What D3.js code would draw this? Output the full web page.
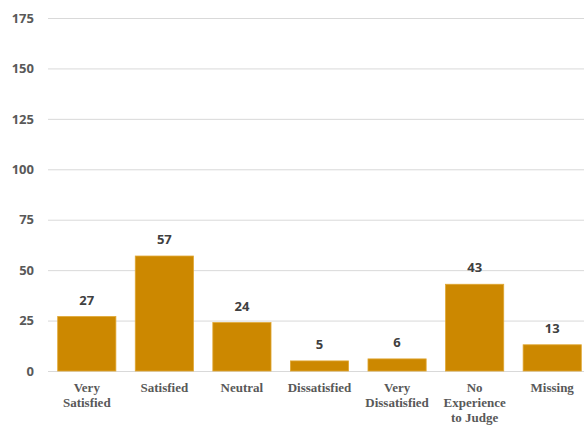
<!DOCTYPE html>
<html><head><meta charset="utf-8">
<script src="https://cdn.jsdelivr.net/npm/d3@7"></script>
<style>body{margin:0;background:#fff}svg{display:block}</style>
</head><body>
<script>
const categories = [["Very","Satisfied"],["Satisfied"],["Neutral"],["Dissatisfied"],["Very","Dissatisfied"],["No","Experience","to Judge"],["Missing"]];
const values = [27, 57, 24, 5, 6, 43, 13];
const yTicks = [0, 25, 50, 75, 100, 125, 150, 175];

const W = 584, H = 425;
const svg = d3.select("body").append("svg").attr("width", W).attr("height", H);
const x = d3.scaleBand().domain(d3.range(values.length)).range([48, 591]).paddingInner(0.25).paddingOuter(0.125);
const y = d3.scaleLinear().domain([0, 175]).range([371, 18]);

const gy = svg.append("g").attr("transform", "translate(48,0)")
  .call(d3.axisLeft(y).tickValues(yTicks).tickSize(-560).tickPadding(14));
gy.select(".domain").remove();
gy.selectAll(".tick line").attr("stroke", "#d9d9d9").attr("stroke-width", 1);
gy.selectAll(".tick text").attr("fill", "#595959").attr("font-family", "'Open Sans', 'Liberation Sans', sans-serif")
  .attr("font-weight", "bold").attr("font-size", 13);

svg.selectAll("rect.bar").data(values).join("rect").attr("class", "bar")
  .attr("x", (d, i) => x(i)).attr("width", x.bandwidth())
  .attr("y", d => y(d)).attr("height", d => y(0) - y(d))
  .attr("fill", "#cc8800").attr("stroke", "#e0a733").attr("stroke-width", 0.8);

svg.selectAll("text.val").data(values).join("text").attr("class", "val")
  .attr("x", (d, i) => x(i) + x.bandwidth() / 2).attr("y", d => y(d) - 12)
  .attr("text-anchor", "middle").attr("fill", "#404040")
  .attr("font-family", "'Open Sans', 'Liberation Sans', sans-serif").attr("font-weight", "bold").attr("font-size", 13)
  .text(d => d);

const cat = svg.selectAll("text.cat").data(categories).join("text").attr("class", "cat")
  .attr("x", (d, i) => x(i) + x.bandwidth() / 2).attr("y", 392)
  .attr("text-anchor", "middle").attr("fill", "#595959")
  .attr("font-family", "'Liberation Serif', 'Times New Roman', serif").attr("font-weight", "bold").attr("font-size", 13);
cat.selectAll("tspan").data(d => d).join("tspan")
  .attr("x", function() { return d3.select(this.parentNode).attr("x"); })
  .attr("dy", (d, i) => i === 0 ? 0 : 15).text(d => d);
</script>
</body></html>
